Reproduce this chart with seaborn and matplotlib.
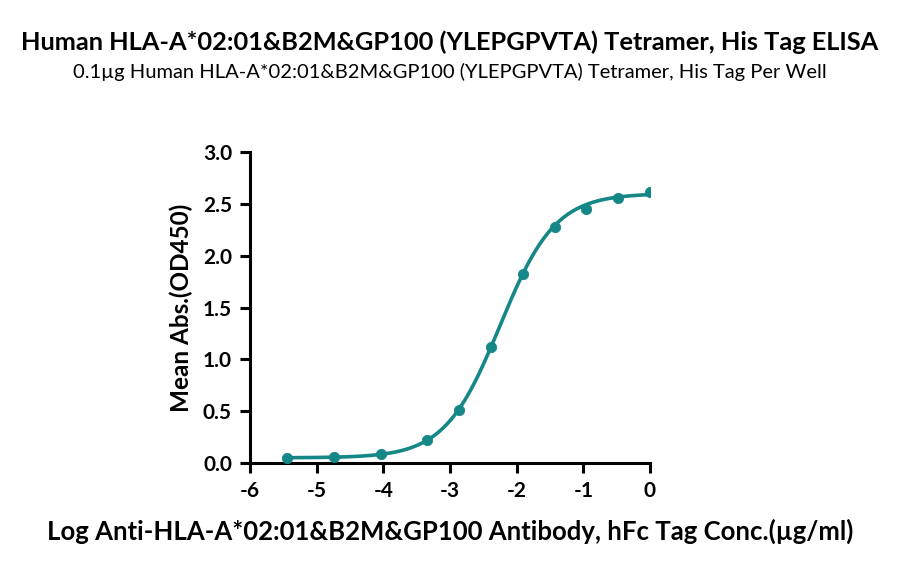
import numpy as np
import pandas as pd
import seaborn as sns
import matplotlib.pyplot as plt

# log concentration (ug/ml) and mean OD450
log_conc = [0.0, -0.477, -0.954, -1.431, -1.908, -2.386, -2.863, -3.340, -4.040, -4.739, -5.438]
od450 = [2.61, 2.56, 2.45, 2.28, 1.82, 1.12, 0.51, 0.22, 0.085, 0.06, 0.05]

# 4PL fit: bottom, top, logEC50, hill slope
fit_params = [0.05, 2.60, -2.25, 1.05]

title = "Human HLA-A*02:01&B2M&GP100 (YLEPGPVTA) Tetramer, His Tag ELISA"
subtitle = "0.1µg Human HLA-A*02:01&B2M&GP100 (YLEPGPVTA) Tetramer, His Tag Per Well"
xlabel = "Log Anti-HLA-A*02:01&B2M&GP100 Antibody, hFc Tag Conc.(µg/ml)"
ylabel = "Mean Abs.(OD450)"

teal = "#168787"

sns.set_style("ticks", {"axes.edgecolor": "black", "xtick.color": "black",
                        "ytick.color": "black", "text.color": "black",
                        "axes.labelcolor": "black"})
plt.rcParams["font.family"] = ["Lato", "DejaVu Sans"]
plt.rcParams["axes.unicode_minus"] = False

df = pd.DataFrame({"x": log_conc, "y": od450})
bottom, top, ec50, hill = fit_params
xs = np.linspace(min(log_conc), max(log_conc), 300)
curve = pd.DataFrame({"x": xs, "y": bottom + (top - bottom) / (1 + 10 ** ((ec50 - xs) * hill))})

fig = plt.figure(figsize=(9, 5.67), dpi=100)
ax = fig.add_axes([250 / 900, 1 - 463 / 567, 400 / 900, 311 / 567])

sns.lineplot(data=curve, x="x", y="y", ax=ax, color=teal, lw=2.6)
sns.scatterplot(data=df, x="x", y="y", ax=ax, color=teal, s=55, edgecolor=teal, zorder=3)

ax.set_xlim(-6, 0)
ax.set_ylim(0, 3.0)
ax.set_xticks(range(-6, 1))
ax.set_yticks(np.arange(0, 3.01, 0.5))
ax.set_yticklabels([f"{v:.1f}" for v in np.arange(0, 3.01, 0.5)])
for s in ["top", "right"]:
    ax.spines[s].set_visible(False)
for s in ["left", "bottom"]:
    ax.spines[s].set_linewidth(2.2)
ax.tick_params(width=2.2, length=7, labelsize=15, pad=6)
for t in ax.get_xticklabels() + ax.get_yticklabels():
    t.set_fontweight("bold")
ax.set_xlabel(xlabel, fontsize=18.5, fontweight="bold", labelpad=13)
ax.set_ylabel(ylabel, fontsize=17.5, fontweight="bold", labelpad=7)

fig.text(0.5, 1 - 42 / 567, title, ha="center", va="center", fontsize=18.3, fontweight="bold")
fig.text(0.5, 1 - 72 / 567, subtitle, ha="center", va="center", fontsize=14.5)

fig.savefig("out.png", dpi=100)
